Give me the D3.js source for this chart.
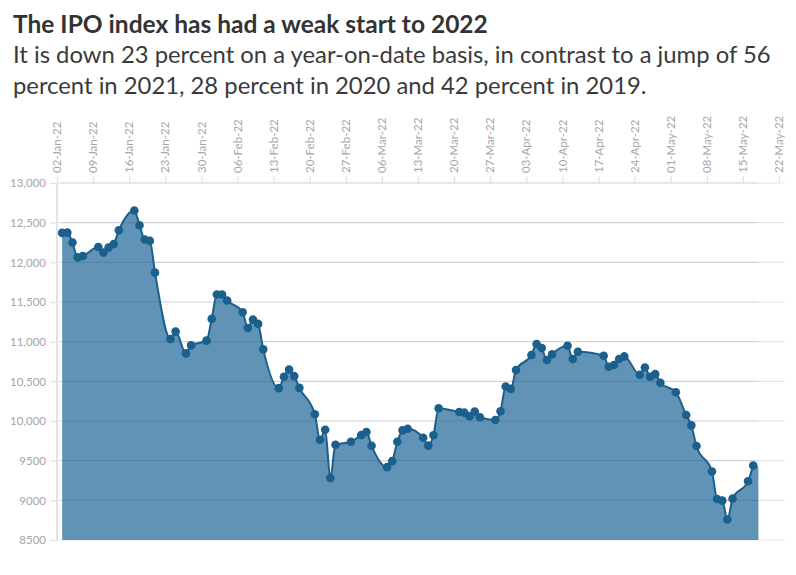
<!DOCTYPE html>
<html>
<head>
<meta charset="utf-8">
<script src="https://cdn.jsdelivr.net/npm/d3@7"></script>
<style>
  html, body { margin: 0; padding: 0; background: #fff; }
  svg { display: block; }
</style>
</head>
<body>
<svg id="chart" width="796" height="575"></svg>
<script>
// ---- data ----
const dates = [
  "2022-01-03","2022-01-04","2022-01-05","2022-01-06","2022-01-07",
  "2022-01-10","2022-01-11","2022-01-12","2022-01-13","2022-01-14",
  "2022-01-17","2022-01-18","2022-01-19","2022-01-20","2022-01-21",
  "2022-01-24","2022-01-25","2022-01-27","2022-01-28",
  "2022-01-31","2022-02-01","2022-02-02","2022-02-03","2022-02-04",
  "2022-02-07","2022-02-08","2022-02-09","2022-02-10","2022-02-11",
  "2022-02-14","2022-02-15","2022-02-16","2022-02-17","2022-02-18",
  "2022-02-21","2022-02-22","2022-02-23","2022-02-24","2022-02-25",
  "2022-02-28","2022-03-02","2022-03-03","2022-03-04",
  "2022-03-07","2022-03-08","2022-03-09","2022-03-10","2022-03-11",
  "2022-03-14","2022-03-15","2022-03-16","2022-03-17",
  "2022-03-21","2022-03-22","2022-03-23","2022-03-24","2022-03-25",
  "2022-03-28","2022-03-29","2022-03-30","2022-03-31","2022-04-01",
  "2022-04-04","2022-04-05","2022-04-06","2022-04-07","2022-04-08",
  "2022-04-11","2022-04-12","2022-04-13",
  "2022-04-18","2022-04-19","2022-04-20","2022-04-21","2022-04-22",
  "2022-04-25","2022-04-26","2022-04-27","2022-04-28","2022-04-29",
  "2022-05-02","2022-05-04","2022-05-05","2022-05-06",
  "2022-05-09","2022-05-10","2022-05-11","2022-05-12","2022-05-13",
  "2022-05-16","2022-05-17"
];
const values = [
  12371,12374,12249,12063,12080,
  12194,12123,12186,12232,12405,
  12654,12468,12287,12270,11870,
  11034,11127,10852,10953,
  11013,11287,11595,11595,11519,
  11371,11173,11278,11224,10903,
  10414,10557,10650,10566,10418,
  10085,9763,9890,9282,9700,
  9738,9823,9861,9687,
  9418,9494,9738,9882,9903,
  9789,9690,9820,10161,
  10114,10105,10059,10118,10047,
  10013,10123,10434,10405,10642,
  10832,10971,10920,10768,10840,
  10949,10781,10873,
  10823,10684,10705,10781,10814,
  10582,10675,10557,10591,10481,
  10363,10076,9945,9684,
  9363,9016,8996,8759,9021,
  9241,9439
];
// area continues one more session beyond the last marker
const areaTailDate = "2022-05-18";
const areaTailValue = 9425;

const xDomain = ["2022-01-02", "2022-05-22"];
const yTicks = [8500, 9000, 9500, 10000, 10500, 11000, 11500, 12000, 12500, 13000];
const yTickLabels = ["8500","9000","9500","10,000","10,500","11,000","11,500","12,000","12,500","13,000"];

const titleText = "The IPO index has had a weak start to 2022";
const subLines = [
  "It is down 23 percent on a year-on-date basis, in contrast to a jump of 56",
  "percent in 2021, 28 percent in 2020 and 42 percent in 2019."
];

// ---- drawing ----
const svg = d3.select("#chart");
const parse = d3.utcParse("%Y-%m-%d");
const fmt = d3.utcFormat("%d-%b-%y");
const FONT = "'Source Sans Pro', Lato, 'Noto Sans', sans-serif";

const pts = dates.map((d, i) => ({ date: parse(d), value: values[i] }));
const areaPts = pts.concat([{ date: parse(areaTailDate), value: areaTailValue }]);

const pL = 57, pR = 779, pT = 183, pB = 540;
const x = d3.scaleUtc().domain(xDomain.map(parse)).range([pL, pR]);
const y = d3.scaleLinear().domain([8500, 13000]).range([pB, pT]);

// title + subtitle, fitted to the reference widths
function fitText(sel, target, base) {
  const w = sel.node().getComputedTextLength();
  sel.attr("font-size", base * target / w);
}
const t = svg.append("text").attr("x", 13).attr("y", 33)
  .attr("font-family", FONT).attr("font-weight", 700).attr("font-size", 20)
  .attr("fill", "#333").text(titleText);
fitText(t, 475, 20);

const s1 = svg.append("text").attr("x", 13).attr("y", 63)
  .attr("font-family", FONT).attr("font-size", 22).attr("fill", "#3a3a3a").text(subLines[0]);
fitText(s1, 758, 22);
const s2 = svg.append("text").attr("x", 13).attr("y", 94)
  .attr("font-family", FONT).attr("font-size", s1.attr("font-size")).attr("fill", "#3a3a3a").text(subLines[1]);

// gridlines
const gridG = svg.append("g");
gridG.selectAll("line").data(yTicks).join("line")
  .attr("x1", pL).attr("x2", 785)
  .attr("y1", d => y(d)).attr("y2", d => y(d))
  .attr("stroke", "#e6e6e6").attr("stroke-width", 1.2);

// y axis
const yAxis = d3.axisLeft(y).tickValues(yTicks)
  .tickFormat((d, i) => yTickLabels[i]).tickSize(7).tickPadding(4);
const yG = svg.append("g").attr("transform", `translate(${pL},0)`).call(yAxis);
yG.select(".domain").attr("stroke", "#e3e3e3").attr("stroke-width", 2)
  .attr("d", `M0,${pT}V${pB + 1}`);
yG.selectAll(".tick line").attr("stroke", "#e3e3e3").attr("stroke-width", 1.2);
yG.selectAll(".tick text").attr("fill", "#a6a6a6").attr("font-size", 11.5)
  .attr("font-family", FONT);

// x axis on top, rotated labels
const xTicks = d3.utcSunday.range(parse(xDomain[0]), d3.utcDay.offset(parse(xDomain[1]), 1));
const xAxis = d3.axisTop(x).tickValues(xTicks).tickFormat(fmt).tickSize(7).tickPadding(4);
const xG = svg.append("g").attr("transform", `translate(0,${pT})`).call(xAxis);
xG.select(".domain").remove();
xG.selectAll(".tick line").attr("stroke", "#e3e3e3").attr("stroke-width", 1.2);
xG.selectAll(".tick text")
  .attr("fill", "#a6a6a6").attr("font-size", 11.5).attr("font-family", FONT)
  .attr("transform", "rotate(-90)").attr("text-anchor", "start")
  .attr("x", 10).attr("y", 0).attr("dy", "0.32em");

// area
const area = d3.area().x(d => x(d.date)).y0(y(8500)).y1(d => y(d.value))
  .curve(d3.curveMonotoneX);
svg.append("path").datum(areaPts).attr("d", area)
  .attr("fill", "#2b6f9e").attr("fill-opacity", 0.75);

// gridlines faintly over the area
svg.append("g").selectAll("line").data(yTicks.slice(1)).join("line")
  .attr("x1", pL + 4).attr("x2", x(parse(areaTailDate)))
  .attr("y1", d => y(d)).attr("y2", d => y(d))
  .attr("stroke", "#1d5a85").attr("stroke-opacity", 0.12).attr("stroke-width", 1.2);

// line
const line = d3.line().x(d => x(d.date)).y(d => y(d.value)).curve(d3.curveMonotoneX);
svg.append("path").datum(pts).attr("d", line)
  .attr("fill", "none").attr("stroke", "#1b5f8c").attr("stroke-width", 2);

// dots
svg.append("g").selectAll("circle").data(pts).join("circle")
  .attr("cx", d => x(d.date)).attr("cy", d => y(d.value)).attr("r", 4.3)
  .attr("fill", "#1b5f8c");
</script>
</body>
</html>
